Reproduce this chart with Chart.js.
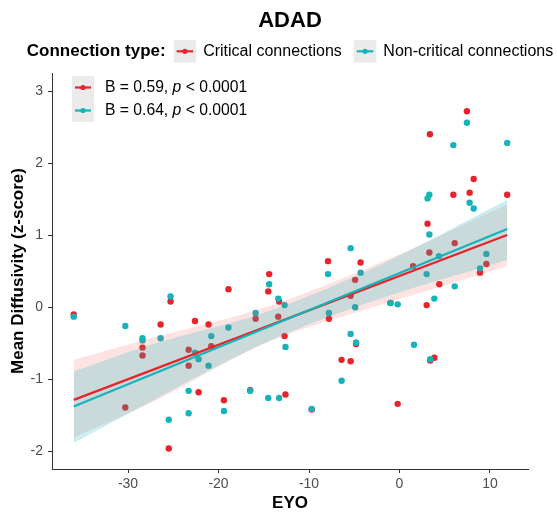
<!DOCTYPE html>
<html lang="en">
<head>
  <meta charset="UTF-8" />
  <title>ADAD</title>
  <script src="https://cdn.jsdelivr.net/npm/chart.js"></script>
  <style>
    body { margin: 0; background: #ffffff; }
    #wrap { position: relative; width: 557px; height: 513px; }
  </style>
</head>
<body>
  <div id="wrap"><canvas id="chart"></canvas></div>

  <script>
    // Critical connections (red)
    const critX = [-36.0, -30.3, -28.4, -28.4, -26.4, -25.3, -25.5, -23.3, -23.3, -22.6, -22.2, -21.1, -20.8, -19.4, -18.9,
      -16.5, -15.9, -14.4, -14.5, -13.3, -13.4, -12.7, -12.6, -9.7, -7.9, -7.8, -6.4, -5.4, -5.4, -4.9, -4.8, -4.3,
      -1.0, -0.2, 1.5, 3.0, 3.1, 3.3, 3.36, 3.4, 3.85, 4.4, 5.95, 6.1, 7.45, 7.75, 8.2, 8.9, 9.6, 11.9];
    const critY = [-0.10, -1.39, -0.56, -0.67, -0.24, 0.08, -1.96, -0.59, -0.81, -0.19, -1.18, -0.24, -0.54, -1.29, 0.25,
      -1.15, -0.16, 0.46, 0.22, 0.08, -0.13, -0.40, -1.21, -1.42, 0.64, -0.16, -0.73, 0.16, -0.75, 0.38, -0.51, 0.62,
      0.06, -1.34, 0.57, 0.03, 1.16, 0.76, 2.40, -0.74, -0.70, 0.32, 1.56, 0.89, 2.72, 1.59, 1.78, 0.48, 0.60, 1.56];

    // Non-critical connections (cyan)
    const nonX = [-36.0, -30.3, -28.4, -28.4, -26.4, -25.3, -25.5, -23.3, -23.3, -22.6, -22.2, -21.1, -20.8, -19.4, -18.9,
      -16.5, -15.9, -14.4, -14.5, -13.4, -12.7, -12.6, -13.3, -9.7, -7.9, -7.8, -6.4, -5.4, -5.4, -4.9, -4.8, -4.3,
      -1.0, -0.2, 1.6, 3.0, 3.1, 3.3, 3.3, 3.4, 3.85, 4.36, 5.95, 6.1, 7.45, 7.75, 8.2, 8.9, 9.6, 11.9];
    const nonY = [-0.13, -0.26, -0.43, -0.46, -0.43, 0.15, -1.56, -1.16, -1.47, -0.63, -0.72, -0.81, -0.40, -1.44, -0.28,
      -1.16, -0.08, 0.32, -1.26, 0.12, 0.03, -0.55, -1.26, -1.41, 0.46, -0.08, -1.02, 0.82, -0.37, 0.00, -0.49, 0.48,
      0.06, 0.04, -0.52, 0.46, 1.51, 1.56, 1.01, -0.72, 0.12, 0.71, 2.25, 0.29, 2.56, 1.45, 1.37, 0.54, 0.74, 2.28];

    // fitted lines and confidence bands
    const fitX = [-36.0, 11.9];
    const critFit = [-1.285, 1.002];
    const nonFit = [-1.378, 1.085];
    const bandX = [-36.0, -27.5, -14.8, -2.1, 11.9];
    const critUpper = [-0.73, -0.43, 0.00, 0.62, 1.43];
    const critLower = [-1.81, -1.33, -0.50, 0.03, 0.57];
    const nonUpper = [-0.89, -0.52, -0.07, 0.59, 1.49];
    const nonLower = [-1.885, -1.31, -0.49, 0.12, 0.655];

    const xTicks = [-30, -20, -10, 0, 10];
    const yTicks = [-2, -1, 0, 1, 2, 3];

    const seriesNames = ['Critical connections', 'Non-critical connections'];
    const statLabels = [['B = 0.59, ', 'p', ' < 0.0001'], ['B = 0.64, ', 'p', ' < 0.0001']];

    const RED = '#E8232B';
    const CYAN = '#14B4BA';
    const FONT = '"Liberation Sans", Arial, sans-serif';

    const pts = (xs, ys) => xs.map((x, i) => ({x: x, y: ys[i]}));

    const bandStyle = {type: 'line', pointRadius: 0, borderWidth: 0, cubicInterpolationMode: 'monotone'};

    const datasets = [
      {type: 'line', label: 'nonFit', data: pts(fitX, nonFit), borderColor: CYAN, borderWidth: 2.2, pointRadius: 0, fill: false, order: 0},
      {type: 'line', label: 'critFit', data: pts(fitX, critFit), borderColor: RED, borderWidth: 2.2, pointRadius: 0, fill: false, order: 1},
      Object.assign({label: 'nonLower', data: pts(bandX, nonLower), fill: false, order: 2}, bandStyle),
      Object.assign({label: 'nonUpper', data: pts(bandX, nonUpper), fill: 2, backgroundColor: 'rgba(20,180,186,0.22)', order: 2}, bandStyle),
      Object.assign({label: 'critLower', data: pts(bandX, critLower), fill: false, order: 3}, bandStyle),
      Object.assign({label: 'critUpper', data: pts(bandX, critUpper), fill: 4, backgroundColor: 'rgba(240,70,60,0.15)', order: 3}, bandStyle),
      {type: 'scatter', label: 'nonPts', data: pts(nonX, nonY), backgroundColor: CYAN, borderWidth: 0, pointRadius: 3.2, order: 4},
      {type: 'scatter', label: 'critPts', data: pts(critX, critY), backgroundColor: RED, borderWidth: 0, pointRadius: 3.2, order: 5}
    ];

    function keyGlyph(ctx, x, y, w, h, color) {
      ctx.fillStyle = '#EBEBEB';
      ctx.fillRect(x, y, w, h);
      const cy = y + h / 2;
      ctx.strokeStyle = color;
      ctx.lineWidth = 2.2;
      ctx.beginPath();
      ctx.moveTo(x + 3, cy);
      ctx.lineTo(x + w - 3, cy);
      ctx.stroke();
      ctx.fillStyle = color;
      ctx.beginPath();
      ctx.arc(x + w / 2, cy, 2.6, 0, Math.PI * 2);
      ctx.fill();
    }

    // titles and legends drawn the ggplot way
    const decor = {
      id: 'decor',
      afterDraw(chart) {
        const ctx = chart.ctx;
        const area = chart.chartArea;
        const cx = (area.left + area.right) / 2;
        ctx.save();
        ctx.textBaseline = 'middle';
        ctx.fillStyle = '#000';

        ctx.font = 'bold 22px ' + FONT;
        ctx.textAlign = 'center';
        ctx.fillText('ADAD', cx, 21);

        // top legend
        const ly = 51.3;
        ctx.font = 'bold 17px ' + FONT;
        const w0 = ctx.measureText('Connection type:').width;
        ctx.font = '16px ' + FONT;
        const w1 = ctx.measureText(seriesNames[0]).width;
        const w2 = ctx.measureText(seriesNames[1]).width;
        const box = 22.5;
        const total = w0 + 8 + box + 7 + w1 + 12 + box + 7 + w2;
        let x = cx - total / 2;
        ctx.textAlign = 'left';
        ctx.font = 'bold 17px ' + FONT;
        ctx.fillStyle = '#000';
        ctx.fillText('Connection type:', x, ly);
        x += w0 + 8;
        keyGlyph(ctx, x, ly - box / 2, box, box, RED);
        x += box + 7;
        ctx.font = '16px ' + FONT;
        ctx.fillStyle = '#000';
        ctx.fillText(seriesNames[0], x, ly);
        x += w1 + 12;
        keyGlyph(ctx, x, ly - box / 2, box, box, CYAN);
        x += box + 7;
        ctx.fillStyle = '#000';
        ctx.fillText(seriesNames[1], x, ly);

        // inner legend with stats
        [RED, CYAN].forEach((c, i) => {
          const top = 76 + i * 23;
          keyGlyph(ctx, 72, top, 22, 23, c);
          let tx = 105;
          const ty = top + 12;
          ctx.fillStyle = '#000';
          statLabels[i].forEach((part, j) => {
            ctx.font = (j === 1 ? 'italic ' : '') + '15.7px ' + FONT;
            ctx.fillText(part, tx, ty);
            tx += ctx.measureText(part).width;
          });
        });

        // axis titles
        ctx.font = 'bold 17px ' + FONT;
        ctx.textAlign = 'center';
        ctx.fillText('EYO', cx, 503);
        ctx.translate(18, (area.top + area.bottom) / 2);
        ctx.rotate(-Math.PI / 2);
        ctx.fillText('Mean Diffusivity (z-score)', 0, 0);
        ctx.restore();
      }
    };

    const axisStyle = {
      grid: {display: true, drawOnChartArea: false, drawTicks: true, tickLength: 4, color: '#333', lineWidth: 1},
      border: {display: true, color: '#333', width: 1}
    };

    new Chart(document.getElementById('chart'), {
      type: 'scatter',
      data: {datasets: datasets},
      plugins: [decor],
      options: {
        responsive: true,
        maintainAspectRatio: false,
        animation: false,
        devicePixelRatio: 1,
        layout: {padding: {top: 73, right: 29, left: 0, bottom: 0}},
        plugins: {legend: {display: false}, tooltip: {enabled: false}, title: {display: false}},
        scales: {
          x: Object.assign({
            type: 'linear', min: -38.4, max: 14.2,
            afterBuildTicks: s => { s.ticks = xTicks.map(v => ({value: v})); },
            afterFit: s => { s.height = 44; },
            ticks: {color: '#4D4D4D', font: {size: 14, family: FONT}, padding: 3, maxRotation: 0}
          }, axisStyle),
          y: Object.assign({
            type: 'linear', min: -2.244, max: 3.25,
            afterBuildTicks: s => { s.ticks = yTicks.map(v => ({value: v})); },
            afterFit: s => { s.width = 52; },
            ticks: {color: '#4D4D4D', font: {size: 14, family: FONT}, padding: 5}
          }, axisStyle)
        }
      }
    });
  </script>
</body>
</html>
